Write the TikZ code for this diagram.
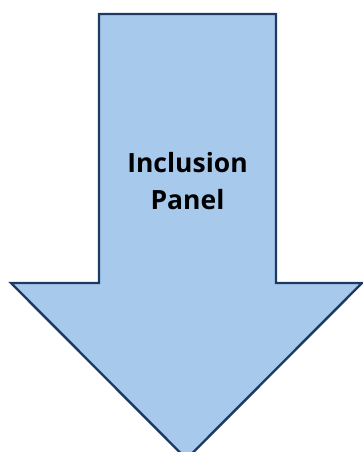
\documentclass[tikz,border=0pt]{standalone}
\usepackage{fontspec}
\setmainfont{Open Sans}
\definecolor{arrowfill}{HTML}{A7C9EB}
\definecolor{arrowline}{HTML}{1C3A63}
\begin{document}
\begin{tikzpicture}[x=1pt, y=-1pt]
    \useasboundingbox (0,0) rectangle (363,452);
    \clip (0,0) rectangle (363,452);
    \draw[fill=arrowfill, draw=arrowline, line width=2.4pt, line join=miter]
        (99,14)--(276,14)--(276,283)--(362,283)--(186.5,459)--(11,283)--(99,283)--cycle;
    \node[align=center, font=\bfseries\fontsize{26.5}{37}\selectfont] (panel) at (187.5,181){Inclusion\\Panel};
\end{tikzpicture}
\end{document}
